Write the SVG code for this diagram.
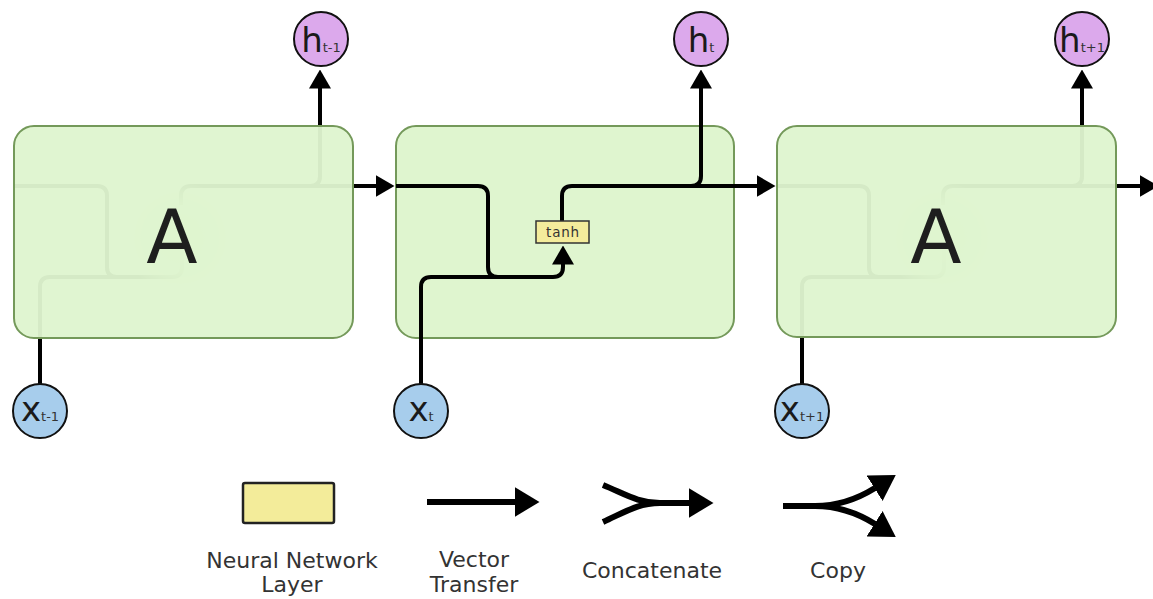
<svg xmlns="http://www.w3.org/2000/svg" width="1153" height="599" viewBox="0 0 1153 599">
  <defs>
    <style>
      .cell { fill: #dff5cf; stroke: #74995a; stroke-width: 2; }
      .veil { fill: #dff5cf; fill-opacity: 0.955; stroke: #74995a; stroke-width: 2; }
      .wire { fill: none; stroke: #000; stroke-width: 4; stroke-linejoin: round; }
      .wire-l { fill: none; stroke: #000; stroke-width: 6; }
      .hid { fill: #dca9ec; stroke: #111; stroke-width: 2; }
      .inp { fill: #a7cdec; stroke: #111; stroke-width: 2; }
      .layer { fill: #f4ec9c; stroke: #333; stroke-width: 1.5; }
      .sym { font-family: "DejaVu Sans", "Liberation Sans", sans-serif; font-size: 34px; fill: #1a1a1a; text-anchor: middle; }
      .sub { font-size: 13px; fill: #333; }
      .big { font-family: "DejaVu Sans", "Liberation Sans", sans-serif; font-size: 75px; fill: #1e1e1e; text-anchor: middle; }
      .gate { font-family: "DejaVu Sans", "Liberation Sans", sans-serif; font-size: 13.5px; fill: #333; text-anchor: middle; letter-spacing: 0.8px; }
      .key { font-family: "DejaVu Sans", "Liberation Sans", sans-serif; font-size: 22px; fill: #333; text-anchor: middle; }
    </style>
    <marker id="head" markerUnits="userSpaceOnUse" viewBox="0 0 19 22" refX="0.5" refY="11" markerWidth="19" markerHeight="22" orient="auto">
      <path d="M0,0 L19,11 L0,22 Z" fill="#000"/>
    </marker>
    <marker id="headL" markerUnits="userSpaceOnUse" viewBox="0 0 25 30" refX="0.5" refY="15" markerWidth="25" markerHeight="30" orient="auto">
      <path d="M0,0 L25,15 L0,30 Z" fill="#000"/>
    </marker>
    <radialGradient id="fade">
      <stop offset="0" stop-color="#dff5cf" stop-opacity="1"/>
      <stop offset="0.6" stop-color="#dff5cf" stop-opacity="0.8"/>
      <stop offset="1" stop-color="#dff5cf" stop-opacity="0"/>
    </radialGradient>
  </defs>

  <rect width="1153" height="599" fill="#fff"/>

  <!-- middle cell, opened up -->
  <g id="cell-t">
    <rect class="cell" x="396" y="126" width="338" height="212" rx="20"/>
  </g>

  <!-- all wiring -->
  <g id="connectors">
    <!-- cell t-1 (under its veil) -->
    <path class="wire" d="M15 186 L97 186 Q107 186 107 196 L107 267 Q107 277 117 277 L172 277 Q182 277 182 267 L182 250"/>
    <path class="wire" d="M40 384 L40 287 Q40 277 50 277 L117 277"/>
    <path class="wire" marker-end="url(#head)" d="M181 205 L181 196 Q181 186 191 186 L376 186"/>
    <path class="wire" marker-end="url(#head)" d="M310 186 Q320 186 320 176 L320 88"/>

    <!-- cell t -->
    <path class="wire" marker-end="url(#head)" d="M396 186 L478 186 Q488 186 488 196 L488 267 Q488 277 498 277 L553 277 Q563 277 563 267 L563 264"/>
    <path class="wire" d="M421 384 L421 287 Q421 277 431 277 L498 277"/>
    <path class="wire" marker-end="url(#head)" d="M562 221 L562 196 Q562 186 572 186 L757 186"/>
    <path class="wire" marker-end="url(#head)" d="M691 186 Q701 186 701 176 L701 88"/>

    <!-- cell t+1 (under its veil) -->
    <path class="wire" d="M777 186 L859 186 Q869 186 869 196 L869 267 Q869 277 879 277 L934 277 Q944 277 944 267 L944 250"/>
    <path class="wire" d="M802 384 L802 287 Q802 277 812 277 L879 277"/>
    <path class="wire" marker-end="url(#head)" d="M943 205 L943 196 Q943 186 953 186 L1140 186"/>
    <path class="wire" marker-end="url(#head)" d="M1072 186 Q1082 186 1082 176 L1082 88"/>
  </g>

  <!-- tanh layer inside cell t -->
  <g id="tanh">
    <rect class="layer" x="536" y="221" width="53" height="22"/>
    <text class="gate" x="563" y="237">tanh</text>
  </g>

  <!-- folded cells A -->
  <g id="cell-prev">
    <circle cx="180" cy="238" r="58" fill="url(#fade)"/>
    <rect class="veil" x="14" y="126" width="339" height="212" rx="20"/>
    <text class="big" x="172" y="263">A</text>
  </g>
  <g id="cell-next">
    <circle cx="942" cy="238" r="58" fill="url(#fade)"/>
    <rect class="veil" x="777" y="126" width="339" height="211" rx="20"/>
    <text class="big" x="936" y="263">A</text>
  </g>

  <!-- outputs -->
  <g id="h-prev">
    <circle class="hid" cx="321" cy="39" r="27"/>
    <text class="sym" x="321" y="52">h<tspan class="sub">t-1</tspan></text>
  </g>
  <g id="h-cur">
    <circle class="hid" cx="701" cy="39" r="27"/>
    <text class="sym" x="701" y="52">h<tspan class="sub">t</tspan></text>
  </g>
  <g id="h-next">
    <circle class="hid" cx="1082" cy="39" r="27"/>
    <text class="sym" x="1082" y="52">h<tspan class="sub">t+1</tspan></text>
  </g>

  <!-- inputs -->
  <g id="x-prev">
    <circle class="inp" cx="40" cy="411" r="27"/>
    <text class="sym" x="40" y="421">x<tspan class="sub">t-1</tspan></text>
  </g>
  <g id="x-cur">
    <circle class="inp" cx="421" cy="411" r="27"/>
    <text class="sym" x="421" y="421">x<tspan class="sub">t</tspan></text>
  </g>
  <g id="x-next">
    <circle class="inp" cx="802" cy="411" r="27"/>
    <text class="sym" x="802" y="421">x<tspan class="sub">t+1</tspan></text>
  </g>

  <!-- legend -->
  <g id="legend-layer">
    <rect x="243" y="483" width="91" height="40" fill="#f3ec9a" stroke="#222" stroke-width="2.5" rx="2"/>
    <text class="key" x="292" y="568">Neural Network</text>
    <text class="key" x="292" y="592">Layer</text>
  </g>
  <g id="legend-transfer">
    <path class="wire-l" marker-end="url(#headL)" d="M427 502 L515 502"/>
    <text class="key" x="474" y="567">Vector</text>
    <text class="key" x="474" y="592">Transfer</text>
  </g>
  <g id="legend-concat">
    <path class="wire-l" d="M603 485 C625 494 638 503 660 503"/>
    <path class="wire-l" d="M603 522 C625 512 638 503 660 503"/>
    <path class="wire-l" marker-end="url(#headL)" d="M658 503 L689 503"/>
    <text class="key" x="652" y="578">Concatenate</text>
  </g>
  <g id="legend-copy">
    <path class="wire-l" d="M783 506 L817 506"/>
    <path class="wire-l" marker-end="url(#headL)" d="M815 506 C840 506 859 498 875 488"/>
    <path class="wire-l" marker-end="url(#headL)" d="M815 506 C840 506 859 514 875 524"/>
    <text class="key" x="838" y="578">Copy</text>
  </g>
</svg>
